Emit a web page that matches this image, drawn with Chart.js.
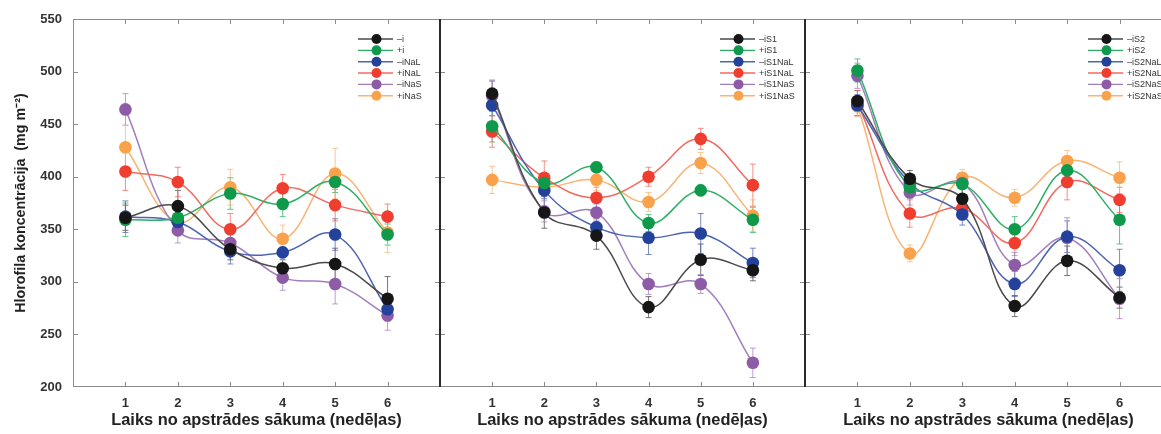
<!DOCTYPE html>
<html><head><meta charset="utf-8">
<script src="https://cdn.jsdelivr.net/npm/chart.js@4"></script>
<style>
html,body{margin:0;padding:0;background:#fff;overflow:hidden;width:1161px;height:434px;position:relative}
canvas{position:absolute;top:0}
</style></head>
<body>
<canvas id="p1" width="450" height="434" style="left:0px"></canvas>
<canvas id="p2" width="385" height="434" style="left:430px"></canvas>
<canvas id="p3" width="387" height="434" style="left:795px"></canvas>
<script>
// ---- data ----
const weeks = [1, 2, 3, 4, 5, 6];
const yTicks = [200, 250, 300, 350, 400, 450, 500, 550];
const xTitle = 'Laiks no apstrādes sākuma (nedēļas)';
const yTitle = 'Hlorofila koncentrācija  (mg m⁻²)';

const labels1 = ['–i', '+i', '–iNaL', '+iNaL', '–iNaS', '+iNaS'];
const labels2 = ['–iS1', '+iS1', '–iS1NaL', '+iS1NaL', '–iS1NaS', '+iS1NaS'];
const labels3 = ['–iS2', '+iS2', '–iS2NaL', '+iS2NaL', '–iS2NaS', '+iS2NaS'];

// panel 1 means
const p1Black  = [361, 372, 331, 313, 317, 284];
const p1Green  = [359, 361, 384, 374, 395, 345];
const p1Blue   = [362, 357, 329, 328, 345, 274];
const p1Red    = [405, 395, 350, 389, 373, 362];
const p1Purple = [464, 349, 337, 304, 298, 268];
const p1Orange = [428, 357, 390, 341, 403, 347];
// panel 1 errors
const e1Black  = [12, 15, 10, 8, 15, 21];
const e1Green  = [16, 15, 15, 12, 10, 10];
const e1Blue   = [15, 8, 12, 5, 15, 8];
const e1Red    = [18, 14, 15, 13, 15, 12];
const e1Purple = [15, 12, 12, 12, 19, 14];
const e1Orange = [21, 10, 17, 13, 24, 19];

// panel 2 means
const p2Black  = [479, 366, 344, 276, 321, 311];
const p2Green  = [448, 394, 409, 356, 387, 359];
const p2Blue   = [468, 387, 352, 342, 346, 318];
const p2Red    = [443, 399, 380, 400, 436, 392];
const p2Purple = [477, 367, 366, 298, 298, 223];
const p2Orange = [397, 390, 397, 376, 413, 363];
// panel 2 errors
const e2Black  = [12, 15, 13, 10, 15, 10];
const e2Green  = [15, 8, 5, 8, 5, 12];
const e2Blue   = [10, 8, 8, 16, 19, 14];
const e2Red    = [15, 16, 10, 9, 10, 20];
const e2Purple = [15, 10, 8, 10, 9, 14];
const e2Orange = [13, 8, 10, 9, 10, 15];

// panel 3 means
const p3Black  = [472, 398, 379, 277, 320, 285];
const p3Green  = [501, 390, 393, 350, 406, 359];
const p3Blue   = [468, 394, 364, 298, 343, 311];
const p3Red    = [470, 365, 370, 337, 395, 378];
const p3Purple = [496, 385, 394, 316, 342, 284];
const p3Orange = [467, 327, 399, 380, 415, 399];
// panel 3 errors
const e3Black  = [10, 8, 10, 10, 14, 10];
const e3Green  = [11, 10, 10, 12, 8, 23];
const e3Blue   = [10, 8, 10, 12, 15, 20];
const e3Red    = [12, 13, 10, 12, 17, 12];
const e3Purple = [12, 12, 10, 12, 19, 19];
const e3Orange = [10, 8, 8, 8, 10, 15];

// ---- styles ----
const colors = ['#161616', '#0f9a4b', '#24419b', '#ef3e2f', '#8e5ba7', '#f9a24b'];
const lineColors = ['#4a4a4a', '#2fae65', '#4d64b2', '#f26a60', '#a27fbc', '#f9b473'];
const FONT = '"Liberation Sans", Arial, Helvetica, sans-serif';

function makeDatasets(labels, means, errs) {
  return means.map((m, i) => ({
    label: labels[i],
    data: weeks.map((w, j) => ({ x: w, y: m[j] })),
    errors: errs[i],
    borderColor: lineColors[i],
    backgroundColor: colors[i],
    pointBackgroundColor: colors[i],
    pointBorderColor: colors[i],
    pointBorderWidth: 0,
    pointRadius: 6.3,
    borderWidth: 1.5,
    tension: 0.4,
    clip: false
  }));
}

const errorBars = {
  id: 'errorBars',
  beforeDatasetsDraw(chart) {
    const ctx = chart.ctx, ys = chart.scales.y, xs = chart.scales.x;
    ctx.save();
    chart.data.datasets.forEach((ds, i) => {
      ctx.strokeStyle = lineColors[i];
      ctx.globalAlpha = 0.75;
      ctx.lineWidth = 1;
      ds.data.forEach((p, j) => {
        const e = ds.errors[j];
        const x = xs.getPixelForValue(p.x);
        const y1 = ys.getPixelForValue(p.y + e), y2 = ys.getPixelForValue(p.y - e);
        ctx.beginPath();
        ctx.moveTo(x, y1); ctx.lineTo(x, y2);
        ctx.moveTo(x - 3, y1); ctx.lineTo(x + 3, y1);
        ctx.moveTo(x - 3, y2); ctx.lineTo(x + 3, y2);
        ctx.stroke();
      });
    });
    ctx.restore();
  }
};

const frame = {
  id: 'frame',
  beforeDatasetsDraw(chart, args, opts) {
    const ctx = chart.ctx, a = chart.chartArea, xs = chart.scales.x, ys = chart.scales.y;
    ctx.save();
    ctx.strokeStyle = '#8c8c8c';
    ctx.lineWidth = 1;
    ctx.beginPath();
    ctx.moveTo(a.left, a.top + 0.5); ctx.lineTo(a.right, a.top + 0.5);
    ctx.moveTo(a.left, a.bottom - 0.5); ctx.lineTo(a.right, a.bottom - 0.5);
    ctx.moveTo(a.right - 0.5, a.top); ctx.lineTo(a.right - 0.5, a.bottom);
    if (!opts.darkLeft) { ctx.moveTo(a.left + 0.5, a.top); ctx.lineTo(a.left + 0.5, a.bottom); }
    // inward ticks
    weeks.forEach(w => {
      const x = Math.round(xs.getPixelForValue(w)) + 0.5;
      ctx.moveTo(x, a.top); ctx.lineTo(x, a.top + 5);
      ctx.moveTo(x, a.bottom); ctx.lineTo(x, a.bottom - 5);
    });
    yTicks.slice(1, -1).forEach(v => {
      const y = Math.round(ys.getPixelForValue(v)) + 0.5;
      ctx.moveTo(a.left, y); ctx.lineTo(a.left + 5, y);
      ctx.moveTo(a.right, y); ctx.lineTo(a.right - 5, y);
    });
    ctx.stroke();
    if (opts.darkLeft) {
      ctx.strokeStyle = '#2a2a2a';
      ctx.lineWidth = 2;
      ctx.beginPath();
      ctx.moveTo(a.left, a.top); ctx.lineTo(a.left, a.bottom);
      ctx.stroke();
    }
    ctx.restore();
  }
};

const legendBox = {
  id: 'legendBox',
  afterDraw(chart, args, opts) {
    const ctx = chart.ctx, a = chart.chartArea;
    const lx = a.right - opts.offset;
    ctx.save();
    ctx.font = '9px ' + FONT;
    ctx.textBaseline = 'middle';
    chart.data.datasets.forEach((ds, i) => {
      const y = a.top + 20 + i * 11.35;
      ctx.strokeStyle = lineColors[i];
      ctx.lineWidth = 1.4;
      ctx.beginPath(); ctx.moveTo(lx, y); ctx.lineTo(lx + 35, y); ctx.stroke();
      ctx.fillStyle = colors[i];
      ctx.beginPath(); ctx.arc(lx + 18.5, y, 5, 0, Math.PI * 2); ctx.fill();
      ctx.fillStyle = '#333';
      ctx.fillText(ds.label, lx + 39, y + 0.5);
    });
    ctx.restore();
  }
};

function makeChart(id, labels, means, errs, first, padL, padR, legendOffset) {
  return new Chart(document.getElementById(id), {
    type: 'line',
    data: { datasets: makeDatasets(labels, means, errs) },
    options: {
      responsive: false,
      animation: false,
      layout: { padding: { top: 19, left: padL, right: padR, bottom: 0 } },
      plugins: {
        legend: { display: false },
        tooltip: { enabled: false },
        frame: { darkLeft: !first },
        legendBox: { offset: legendOffset }
      },
      scales: {
        x: {
          type: 'linear', min: 0, max: 7,
          grid: { display: false, drawTicks: false },
          border: { display: false },
          afterBuildTicks: ax => { ax.ticks = weeks.map(v => ({ value: v })); },
          afterFit: ax => { ax.height = 47; },
          ticks: { color: '#333', font: { family: FONT, size: 13, weight: 'bold' }, padding: 9, maxRotation: 0, callback: v => String(v) },
          title: { display: true, text: xTitle, color: '#222', font: { family: FONT, size: 16.4, weight: 'bold' }, padding: { top: 0, bottom: 4 } }
        },
        y: {
          display: first,
          min: 200, max: 550,
          grid: { display: false, drawTicks: false },
          border: { display: false },
          afterBuildTicks: ax => { ax.ticks = yTicks.map(v => ({ value: v })); },
          afterFit: ax => { if (first) ax.width = 73; },
          ticks: { color: '#333', font: { family: FONT, size: 13, weight: 'bold' }, padding: 11 },
          title: { display: true, text: yTitle, color: '#222', font: { family: FONT, size: 14.3, weight: 'bold' }, padding: { top: 12, bottom: 0 } }
        }
      }
    },
    plugins: [errorBars, frame, legendBox]
  });
}

makeChart('p1', labels1,
  [p1Black, p1Green, p1Blue, p1Red, p1Purple, p1Orange],
  [e1Black, e1Green, e1Blue, e1Red, e1Purple, e1Orange], true, 0, 10, 82);
makeChart('p2', labels2,
  [p2Black, p2Green, p2Blue, p2Red, p2Purple, p2Orange],
  [e2Black, e2Green, e2Blue, e2Red, e2Purple, e2Orange], false, 10, 10, 85);
makeChart('p3', labels3,
  [p3Black, p3Green, p3Blue, p3Red, p3Purple, p3Orange],
  [e3Black, e3Green, e3Blue, e3Red, e3Purple, e3Orange], false, 10, 10, 84);
</script>
</body></html>
